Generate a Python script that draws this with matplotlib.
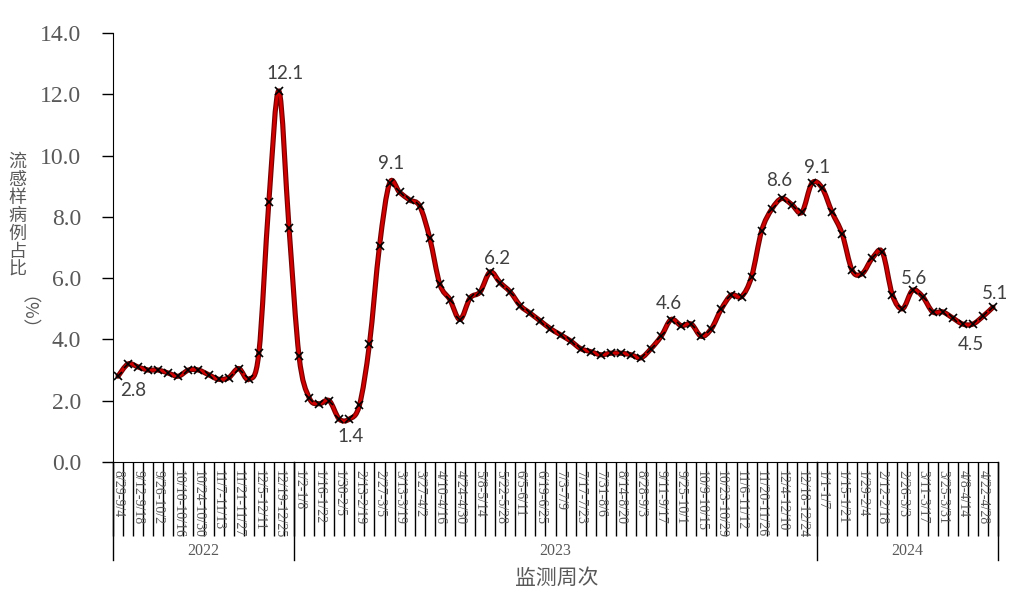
import numpy as np
import matplotlib
matplotlib.use("Agg")
import matplotlib.pyplot as plt
from matplotlib.path import Path
from matplotlib.patches import PathPatch

plt.rcParams["font.family"] = ["Liberation Serif", "DejaVu Serif"]

# ILI percentage per week (2022-08-29 .. 2024-05-05)
ili = [2.8, 3.2, 3.1, 3.0, 3.0, 2.9, 2.8, 3.0, 3.0, 2.85,
       2.7, 2.75, 3.05, 2.7, 3.55, 8.5, 12.1, 7.65, 3.45, 2.1,
       1.9, 2.0, 1.4, 1.4, 1.85, 3.85, 7.05, 9.1, 8.8, 8.55,
       8.35, 7.3, 5.8, 5.3, 4.65, 5.35, 5.55, 6.2, 5.85, 5.55,
       5.1, 4.85, 4.6, 4.35, 4.15, 3.95, 3.7, 3.6, 3.5, 3.55,
       3.55, 3.5, 3.4, 3.7, 4.1, 4.65, 4.45, 4.5, 4.1, 4.35,
       5.0, 5.45, 5.4, 6.05, 7.55, 8.25, 8.6, 8.4, 8.15, 9.1,
       8.95, 8.15, 7.45, 6.25, 6.15, 6.65, 6.85, 5.45, 5.0, 5.6,
       5.4, 4.9, 4.9, 4.7, 4.5, 4.5, 4.75, 5.05]

# labels shown on every other week
week_labels = ["8/29-9/4", "9/12-9/18", "9/26-10/2", "10/10-10/16", "10/24-10/30",
               "11/7-11/13", "11/21-11/27", "12/5-12/11", "12/19-12/25",
               "1/2-1/8", "1/16-1/22", "1/30-2/5", "2/13-2/19", "2/27-3/5",
               "3/13-3/19", "3/27-4/2", "4/10-4/16", "4/24-4/30", "5/8-5/14",
               "5/22-5/28", "6/5-6/11", "6/19-6/25", "7/3-7/9", "7/17-7/23",
               "7/31-8/6", "8/14-8/20", "8/28-9/3", "9/11-9/17", "9/25-10/1",
               "10/9-10/15", "10/23-10/29", "11/6-11/12", "11/20-11/26",
               "12/4-12/10", "12/18-12/24",
               "1/1-1/7", "1/15-1/21", "1/29-2/4", "2/12-2/18", "2/26-3/3",
               "3/11-3/17", "3/25-3/31", "4/8-4/14", "4/22-4/28"]

years = ["2022", "2023", "2024"]
weeks_per_year = [18, 52, 18]

# (index, text, dx px, dy px)
point_labels = [(0, "2.8", 15, -14), (16, "12.1", 6, 18), (23, "1.4", 1, -17),
                (27, "9.1", 2, 20), (37, "6.2", 7, 14), (55, "4.6", -2, 16),
                (66, "8.6", -3, 18), (69, "9.1", 5, 16), (79, "5.6", 1, 12),
                (85, "4.5", -2, -20), (87, "5.1", 2, 14)]

gray = "#595959"
cjk = ["Noto Sans CJK SC", "DejaVu Sans"]

fig = plt.figure(figsize=(10.27, 6.01), dpi=100)
ax = fig.add_axes([113 / 1027, 1 - 462 / 601, 885 / 1027, 429 / 601])

n = len(ili)
x = np.arange(n) + 0.5
y = np.array(ili)

# smoothed line like excel (catmull-rom bezier)
pts = np.column_stack([x, y])
ext = np.vstack([pts[0], pts, pts[-1]])
verts = [pts[0]]
codes = [Path.MOVETO]
for i in range(n - 1):
    p0, p1, p2, p3 = ext[i], ext[i + 1], ext[i + 2], ext[i + 3]
    verts += [p1 + (p2 - p0) / 6, p2 - (p3 - p1) / 6, p2]
    codes += [Path.CURVE4] * 3
path = Path(verts, codes)
ax.add_patch(PathPatch(path, fill=False, edgecolor="#7a0000", lw=3.7, capstyle="round", zorder=2))
ax.add_patch(PathPatch(path, fill=False, edgecolor="#d00000", lw=2.0, capstyle="round", zorder=3))
ax.plot(x, y, linestyle="none", marker="x", color="black", markersize=6, markeredgewidth=1.2, zorder=4)

for i, txt, dx, dy in point_labels:
    ax.annotate(txt, (x[i], y[i]), xytext=(dx, dy), textcoords="offset pixels",
                ha="center", va="center", fontsize=13.5, color="#404040", family="Lato")

ax.set_xlim(0, n)
ax.set_ylim(0, 14)
ax.set_yticks(np.arange(0, 15, 2))
ax.set_yticklabels(["%.1f" % v for v in np.arange(0, 15, 2)], fontsize=17, color=gray)
ax.tick_params(axis="y", direction="out", length=8, width=1, pad=15)

ax.set_xticks(np.arange(0, n + 1))
ax.set_xticklabels([])
ax.set_xticks(np.arange(0, n, 2) + 0.5, minor=True)
ax.set_xticklabels(week_labels, minor=True, rotation=270, fontsize=10, color=gray)
ax.tick_params(axis="x", which="major", direction="out", length=53, width=1)
ax.tick_params(axis="x", which="minor", length=0, pad=6)

for s in ["top", "right"]:
    ax.spines[s].set_visible(False)

# year grouping
bounds = np.concatenate([[0], np.cumsum(weeks_per_year)])
trans = ax.get_xaxis_transform()
for b in bounds:
    ax.plot([b, b], [0, -0.228], transform=trans, color="black", lw=1, clip_on=False)
for k, yr in enumerate(years):
    ax.text((bounds[k] + bounds[k + 1]) / 2, -0.208, yr, transform=trans, ha="center", va="center",
            fontsize=11.5, color=gray)

fig.text(557 / 1027, 1 - 578 / 601, "监测周次", ha="center", va="center", fontsize=15,
         color=gray, family=cjk)
fig.text(17 / 1027, 1 - 153 / 601, "流\n感\n样\n病\n例\n占\n比", ha="center", va="top", fontsize=13,
         color=gray, family=cjk, linespacing=1.0)
fig.text(17 / 1027, 1 - 322 / 601, "（%）", ha="center", va="center", fontsize=13, rotation=270,
         color=gray, family=cjk)

fig.savefig("out.png", dpi=100)
